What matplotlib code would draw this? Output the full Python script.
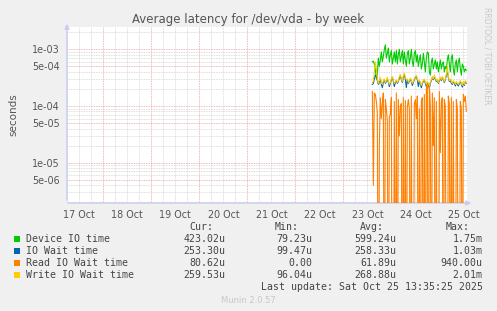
import matplotlib
matplotlib.use("Agg")
import matplotlib.pyplot as plt
from matplotlib.patches import Rectangle
from matplotlib.ticker import FixedLocator, NullFormatter
import numpy as np
import pandas as pd

W, H = 497, 311

# 30-minute samples, 23 Oct 14:30 .. 25 Oct 13:30 (values in microseconds)
t0, step = "2025-10-23 14:30", "30min"
device_us = [600, 620, 550, 450, 300, 350, 700, 500, 650, 900, 600, 750,
             1000, 1200, 700, 850, 1050, 600, 800, 950, 550, 700, 900, 600,
             950, 550, 800, 1000, 600, 750, 950, 550, 900, 650, 500, 850,
             950, 550, 700, 1000, 600, 500, 850, 950, 600, 800, 500, 650,
             800, 450, 550, 850, 600, 400, 700, 900, 850, 400, 350, 600,
             700, 450, 550, 650, 450, 600, 400, 500, 650, 450, 550, 600,
             400, 500, 450, 650, 800, 550, 400, 700, 800, 450, 350, 550,
             650, 400, 600, 700, 450, 350, 550, 500, 400, 450, 423]
iowait_us = [240, 250, 300, 350, 330, 280, 240, 260, 300, 240, 210, 260,
             290, 250, 270, 300, 260, 220, 250, 290, 320, 270, 220, 260,
             280, 250, 270, 310, 340, 290, 260, 320, 360, 300, 210, 290,
             250, 270, 300, 270, 230, 260, 290, 320, 330, 290, 220, 280,
             240, 210, 250, 270, 290, 250, 220, 260, 240, 205, 250, 280,
             320, 290, 330, 300, 270, 290, 250, 280, 310, 280, 320, 290,
             260, 290, 340, 420, 320, 270, 290, 250, 240, 270, 250, 225,
             260, 240, 225, 250, 270, 240, 215, 260, 230, 270, 253]
read_us = [180, 4, 170, 160, 120, 75, 0, 20, 140, 60, 110, 170,
           0, 130, 90, 55, 0, 65, 70, 140, 0, 0, 120, 0,
           170, 0, 130, 30, 100, 110, 0, 140, 0, 125, 0, 95,
           130, 90, 0, 150, 0, 0, 110, 130, 60, 150, 0, 90,
           0, 120, 140, 0, 160, 0, 200, 240, 0, 250, 100, 0,
           170, 20, 140, 0, 120, 0, 0, 180, 15, 120, 140, 0,
           130, 100, 0, 0, 150, 110, 0, 140, 0, 120, 0, 0,
           130, 90, 0, 0, 120, 90, 0, 160, 120, 150, 80.62]
write_us = [250, 280, 400, 600, 450, 300, 250, 280, 320, 260, 240, 280,
            300, 260, 280, 320, 270, 240, 260, 300, 330, 280, 250, 270,
            290, 260, 280, 330, 360, 300, 270, 340, 380, 320, 290, 300,
            260, 280, 310, 280, 250, 270, 300, 330, 350, 300, 270, 290,
            250, 230, 260, 280, 300, 260, 240, 270, 250, 230, 260, 290,
            330, 300, 350, 310, 280, 300, 260, 290, 320, 290, 330, 300,
            270, 300, 360, 500, 330, 280, 300, 270, 250, 280, 260, 240,
            270, 250, 240, 260, 280, 250, 230, 270, 240, 280, 260]

names = ["Device IO time", "IO Wait time", "Read IO Wait time", "Write IO Wait time"]
colors = ["#00cc00", "#0066b3", "#ff8000", "#ffcc00"]
cur = ["423.02u", "253.30u", "80.62u", "259.53u"]
mins = ["79.23u", "99.47u", "0.00", "96.04u"]
avgs = ["599.24u", "258.33u", "61.89u", "268.88u"]
maxs = ["1.75m", "1.03m", "940.00u", "2.01m"]
day_labels = ["17 Oct", "18 Oct", "19 Oct", "20 Oct", "21 Oct",
              "22 Oct", "23 Oct", "24 Oct", "25 Oct"]

times = pd.date_range(t0, periods=len(device_us), freq=step)
days = pd.date_range("2025-10-17", "2025-10-25", freq="D")

fig = plt.figure(figsize=(W / 100, H / 100), dpi=100, facecolor="#f0f0f0")
L, T, R, B = 67, 27, 467, 203
ax = fig.add_axes([L / W, 1 - B / H, (R - L) / W, (B - T) / H])
ax.set_facecolor("white")
for s in ax.spines.values():
    s.set_visible(False)

ax.set_yscale("log")
ax.set_ylim(1.946e-6, 2.47e-3)
ax.set_xlim(pd.Timestamp("2025-10-17 05:50"), pd.Timestamp("2025-10-25 13:50"))

# grid: minor grey dotted, major pinkish dotted
grey, pink = "#d4d4d4", "#eba0a0"
for d in pd.date_range("2025-10-17 06:00", "2025-10-25 12:00", freq="6h"):
    c = pink if d.hour == 0 else grey
    ax.axvline(d, color=c, lw=0.6, ls=(0, (1, 1)), zorder=0)
for e in range(-6, -2):
    for m in range(1, 10):
        v = m * 10.0 ** e
        c = pink if m in (1, 5) else grey
        ax.axhline(v, color=c, lw=0.6, ls=(0, (1, 1)), zorder=0)

# drawn in rrdtool order; zeros go to the floor like rrdtool does
for vals, col, z in zip([device_us, iowait_us, read_us, write_us], colors, [2, 3, 4, 5]):
    v = np.asarray(vals, float) * 1e-6
    v = np.where(v > 0, v, 1e-9)
    ax.plot(times, v, color=col, lw=0.8, zorder=z, clip_on=True)

ytick_vals = [5e-6, 1e-5, 5e-5, 1e-4, 5e-4, 1e-3]
ax.yaxis.set_major_locator(FixedLocator(ytick_vals))
ax.yaxis.set_minor_formatter(NullFormatter())
ax.yaxis.set_minor_locator(FixedLocator([]))
ax.set_yticklabels(["%.0e" % v for v in ytick_vals])
ax.set_xticks(days + pd.Timedelta(hours=12))
ax.set_xticklabels(day_labels)
ax.tick_params(axis="both", length=0, labelsize=6.9, colors="#555555")
ax.tick_params(axis="y", pad=5)
ax.tick_params(axis="x", pad=5)
ax.set_ylabel("seconds", fontsize=7.5, color="#555555", labelpad=10)

# axis arrows
acol = "#c8ccf0"
ax.annotate("", xy=(L, H - 21), xytext=(L, H - B), xycoords="figure pixels",
            arrowprops=dict(arrowstyle="-|>", color=acol, lw=1, mutation_scale=7))
ax.annotate("", xy=(474, H - B), xytext=(L - 2, H - B), xycoords="figure pixels",
            arrowprops=dict(arrowstyle="-|>", color=acol, lw=1, mutation_scale=7))


def ftxt(x, y, s, **kw):
    fig.text(x / W, 1 - y / H, s, **kw)


ftxt(248, 20, "Average latency for /dev/vda - by week", ha="center", va="center",
     fontsize=8.5, color="#555555")
ftxt(487, 56, "RRDTOOL / TOBI OETIKER", ha="center", va="center", rotation=270,
     fontsize=5.5, color="#c8c8c8")

mono = dict(family="DejaVu Sans Mono", fontsize=7.1, color="#444444", va="center")
for xr, hd in zip([213, 299, 384, 470], ["Cur:", "Min:", "Avg:", "Max:"]):
    ftxt(xr, 227.3, hd, ha="right", **mono)
for i, nm in enumerate(names):
    yy = 239.3 + 12 * i
    fig.patches.append(Rectangle((14 / W, 1 - (yy + 3) / H), 6 / W, 6 / H,
                                 transform=fig.transFigure, facecolor=colors[i],
                                 edgecolor="none"))
    ftxt(26, yy, nm, ha="left", **mono)
    for xr, col in zip([225.7, 312, 396.7, 482.7], [cur, mins, avgs, maxs]):
        ftxt(xr, yy, col[i], ha="right", **mono)
ftxt(482.7, 287.3, "Last update: Sat Oct 25 13:35:25 2025", ha="right", **mono)
ftxt(248, 300.5, "Munin 2.0.57", ha="center", va="center", fontsize=6, color="#c8c8c8")

fig.savefig("out.png", dpi=100, facecolor=fig.get_facecolor())
